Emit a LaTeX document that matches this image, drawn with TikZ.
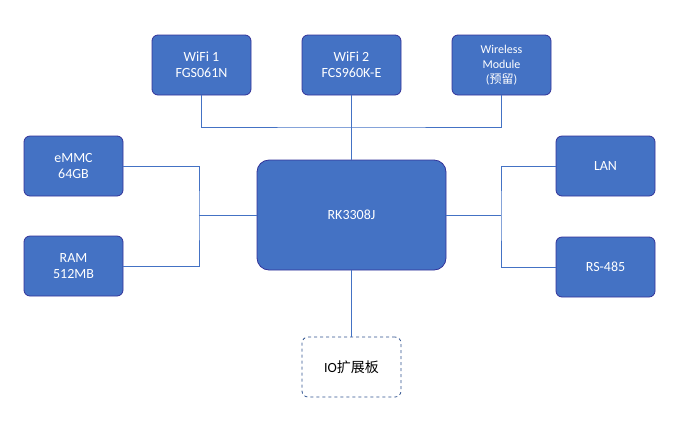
\documentclass[tikz,border=0pt]{standalone}
\usepackage{fontspec}
\setmainfont{Carlito}
\newfontfamily\cjk{Noto Sans CJK SC}
\begin{document}
\begin{tikzpicture}[x=1pt,y=-1pt,
 box/.style={draw=blue!50!black!80,fill={rgb,255:red,68;green,114;blue,196},line width=0.8pt,rounded corners=6pt,text=white,align=center,font=\fontsize{14}{16}\selectfont,minimum width=99pt,minimum height=60pt,inner sep=1pt},
 ln/.style={draw={rgb,255:red,68;green,114;blue,196},line width=0.8pt}]
\path[use as bounding box] (0,0) rectangle (700,424);
\node[box] (w1) at (201.5,65) {WiFi 1\\FGS061N};
\node[box] (w2) at (351.5,65) {WiFi 2\\FCS960K-E};
\node[box,font=\fontsize{12}{15}\selectfont] (w3) at (501.5,65) {Wireless\\Module\\({\cjk 预留})};
\node[box] (em) at (73.5,166) {eMMC\\64GB};
\node[box] (ram) at (73.5,266) {RAM\\512MB};
\node[box,minimum width=189pt,minimum height=110pt,rounded corners=12pt] (rk) at (351.5,215) {RK3308J};
\node[box] (lan) at (605.5,166) {LAN};
\node[box] (rs) at (605.5,267) {RS-485};
\node[box,fill=white,text=black,dashed,draw={rgb,255:red,47;green,82;blue,143}] (io) at (351.5,367) {IO{\cjk 扩展板}};
\coordinate (tb) at (351.5,127);
\coordinate (lb) at (199,215);
\coordinate (rb) at (501,215);
\draw[ln] (w1.south) |- (tb) -| (w3.south);
\draw[ln] (w2.south) -- (rk.north);
\draw[ln] (em.east) -| (lb) |- (ram.east);
\draw[ln] (lb) -- (rk.west);
\draw[ln] (lan.west) -| (rb) |- (rs.west);
\draw[ln] (rb) -- (rk.east);
\draw[ln] (rk.south) -- (io.north);
\end{tikzpicture}
\end{document}
